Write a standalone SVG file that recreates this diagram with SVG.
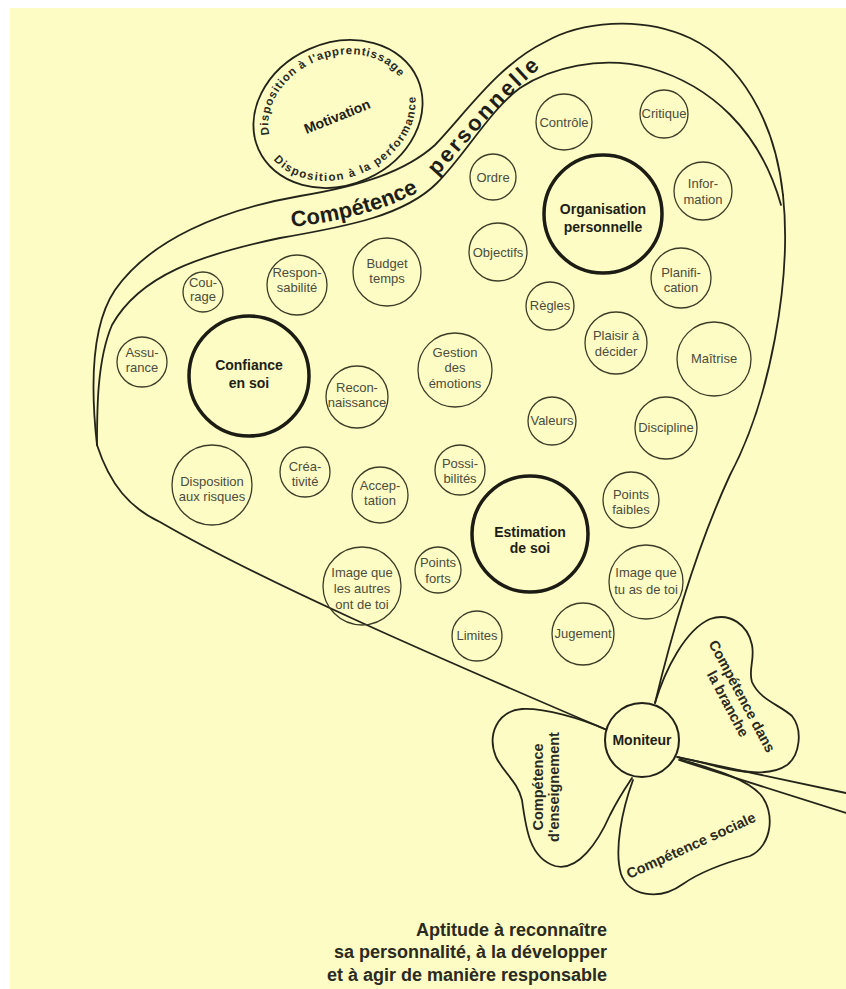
<svg xmlns="http://www.w3.org/2000/svg" width="846" height="989" viewBox="0 0 846 989">
<defs>
<style>
.c{fill:none;stroke:#3c3c28;stroke-width:1.3}
.ck{fill:none;stroke:#1c1c14;stroke-width:3.5}
.t{font-family:"Liberation Sans",Arial,sans-serif;font-size:13px;fill:#4c4c3c;text-anchor:middle}
.tb{font-family:"Liberation Sans",Arial,sans-serif;font-size:14px;font-weight:bold;fill:#1e1e16;text-anchor:middle}
.ln{fill:none;stroke:#24241a;stroke-width:1.8;stroke-linecap:round}
.pt{font-family:"Liberation Sans",Arial,sans-serif;font-size:14.5px;font-weight:bold;fill:#2a2a1e;text-anchor:middle}
.bt{font-family:"Liberation Sans",Arial,sans-serif;font-size:22px;font-weight:bold;fill:#1e1e16}
.et{font-family:"Liberation Sans",Arial,sans-serif;font-size:11.5px;font-weight:bold;fill:#2a2a1e;text-anchor:middle}
</style>
<path id="band1" d="M 292,227 C 335,222 385,212 425,188"/>
<path id="band2" d="M 437,176 C 470,140 505,95 552,58"/>
<path id="arcTop" d="M -72,0 A 72 57 0 0 1 72,0"/>
<path id="arcBot" d="M -80,0 A 80 64 0 0 0 80,0"/>
</defs>
<rect x="0" y="0" width="846" height="989" fill="#ffffff"/>
<rect x="10" y="8" width="836" height="981" fill="#fcfcc4"/>

<g id="connectors">
<path class="ln" d="M 97,445 C 92,400 88,330 115,290 C 150,240 220,210 300,196 C 360,186 405,172 435,145 C 465,114 498,65 545,42 C 580,22 640,15 690,38 C 740,62 775,120 783,195"/>
<path class="ln" d="M 97,445 C 97,410 97,360 112,325 C 140,275 200,255 280,238 C 350,226 405,215 437,183 C 465,155 490,110 520,88 C 550,68 600,55 650,68 C 710,85 760,130 781,205"/>
<path class="ln" d="M 783,195 C 792,280 770,400 730,475 C 700,540 675,620 655,703"/>
<path class="ln" d="M 97,445 C 110,485 130,508 160,522 C 260,580 420,650 607,730"/>
<path class="ln" d="M 677,757 L 846,793"/>
<path class="ln" d="M 679,760 L 846,813"/>
</g>

<g id="motivation">
<g transform="translate(338,114) rotate(-24)">
<ellipse cx="0" cy="0" rx="87" ry="71" fill="none" stroke="#22221a" stroke-width="1.8"/>
<text class="et"><textPath href="#arcTop" startOffset="50%" textLength="185" lengthAdjust="spacing">Disposition à l'apprentissage</textPath></text>
<text class="et"><textPath href="#arcBot" startOffset="50%" textLength="195" lengthAdjust="spacing">Disposition à la performance</textPath></text>
</g>
<text class="tb" transform="translate(339,121) rotate(-22)">Motivation</text>
</g>

<g id="band-title">
<text class="bt"><textPath href="#band1">Compétence</textPath></text>
<text class="bt"><textPath href="#band2" textLength="150" lengthAdjust="spacing">personnelle</textPath></text>
</g>

<g id="controle"><circle class="c" cx="564" cy="122" r="28"/><text class="t" x="564" y="127">Contrôle</text></g>
<g id="critique"><circle class="c" cx="664" cy="114" r="24"/><text class="t" x="664" y="118">Critique</text></g>
<g id="ordre"><circle class="c" cx="493" cy="177" r="23"/><text class="t" x="493" y="182">Ordre</text></g>
<g id="organisation"><circle class="ck" cx="603" cy="214" r="59"/><text class="tb" x="603" y="214">Organisation</text><text class="tb" x="603" y="232">personnelle</text></g>
<g id="information"><circle class="c" cx="703" cy="191" r="29"/><text class="t" x="703" y="188">Infor-</text><text class="t" x="703" y="204">mation</text></g>
<g id="objectifs"><circle class="c" cx="498" cy="252" r="29"/><text class="t" x="498" y="257">Objectifs</text></g>
<g id="planification"><circle class="c" cx="681" cy="278" r="30"/><text class="t" x="681" y="277">Planifi-</text><text class="t" x="681" y="292">cation</text></g>
<g id="regles"><circle class="c" cx="550" cy="306" r="24"/><text class="t" x="550" y="310">Règles</text></g>
<g id="plaisir"><circle class="c" cx="616" cy="343" r="31"/><text class="t" x="616" y="340">Plaisir à</text><text class="t" x="616" y="356">décider</text></g>
<g id="maitrise"><circle class="c" cx="714" cy="359" r="37"/><text class="t" x="714" y="363">Maîtrise</text></g>
<g id="discipline"><circle class="c" cx="666" cy="428" r="31"/><text class="t" x="666" y="432">Discipline</text></g>
<g id="valeurs"><circle class="c" cx="552" cy="421" r="24"/><text class="t" x="552" y="425">Valeurs</text></g>
<g id="gestion"><circle class="c" cx="455" cy="370" r="37"/><text class="t" x="455" y="357">Gestion</text><text class="t" x="455" y="372">des</text><text class="t" x="455" y="388">émotions</text></g>
<g id="reconnaissance"><circle class="c" cx="357" cy="397" r="31"/><text class="t" x="357" y="392">Recon-</text><text class="t" x="357" y="407">naissance</text></g>
<g id="budget"><circle class="c" cx="387" cy="272" r="34"/><text class="t" x="387" y="268">Budget</text><text class="t" x="387" y="283">temps</text></g>
<g id="responsabilite"><circle class="c" cx="297" cy="285" r="30"/><text class="t" x="297" y="277">Respon-</text><text class="t" x="297" y="292">sabilité</text></g>
<g id="courage"><circle class="c" cx="203" cy="292" r="20"/><text class="t" x="203" y="287" font-size="12">Cou-</text><text class="t" x="203" y="301" font-size="12">rage</text></g>
<g id="assurance"><circle class="c" cx="142" cy="362" r="25"/><text class="t" x="142" y="357">Assu-</text><text class="t" x="142" y="372">rance</text></g>
<g id="confiance"><circle class="ck" cx="249" cy="376" r="60"/><text class="tb" x="249" y="370">Confiance</text><text class="tb" x="249" y="388">en soi</text></g>
<g id="disposition-risques"><circle class="c" cx="212" cy="485" r="40"/><text class="t" x="212" y="486">Disposition</text><text class="t" x="212" y="501">aux risques</text></g>
<g id="creativite"><circle class="c" cx="305" cy="472" r="25"/><text class="t" x="305" y="471">Créa-</text><text class="t" x="305" y="486">tivité</text></g>
<g id="acceptation"><circle class="c" cx="380" cy="495" r="28"/><text class="t" x="380" y="490">Accep-</text><text class="t" x="380" y="505">tation</text></g>
<g id="possibilites"><circle class="c" cx="460" cy="470" r="25"/><text class="t" x="460" y="468">Possi-</text><text class="t" x="460" y="483">bilités</text></g>
<g id="image-autres"><circle class="c" cx="362" cy="586" r="39"/><text class="t" x="362" y="577">Image que</text><text class="t" x="362" y="593">les autres</text><text class="t" x="362" y="609">ont de toi</text></g>
<g id="points-forts"><circle class="c" cx="438" cy="570" r="23"/><text class="t" x="438" y="567">Points</text><text class="t" x="438" y="583">forts</text></g>
<g id="estimation"><circle class="ck" cx="530" cy="534" r="58"/><text class="tb" x="530" y="537">Estimation</text><text class="tb" x="530" y="553">de soi</text></g>
<g id="points-faibles"><circle class="c" cx="631" cy="500" r="28"/><text class="t" x="631" y="499">Points</text><text class="t" x="631" y="514">faibles</text></g>
<g id="image-toi"><circle class="c" cx="646" cy="582" r="37"/><text class="t" x="646" y="577">Image que</text><text class="t" x="646" y="594">tu as de toi</text></g>
<g id="limites"><circle class="c" cx="477" cy="636" r="25"/><text class="t" x="477" y="640">Limites</text></g>
<g id="jugement"><circle class="c" cx="583" cy="634" r="31"/><text class="t" x="583" y="638">Jugement</text></g>

<g id="petal-branche">
<path class="ln" d="M 655,703 C 665,670 685,630 710,619 C 730,612 748,625 752,645 C 755,660 748,670 752,682 C 760,700 780,705 792,716 C 803,730 800,755 787,765 C 770,777 740,772 715,766 C 700,762 690,760 678,757"/>
<g transform="translate(735,700) rotate(62)"><text class="pt" x="0" y="-3">Compétence dans</text><text class="pt" x="0" y="13">la branche</text></g>
</g>
<g id="petal-enseignement">
<path class="ln" d="M 607,730 C 580,718 545,708 522,709 C 497,711 487,735 496,757 C 503,772 518,782 522,800 C 526,830 530,858 555,866 C 578,872 598,842 610,815 C 619,797 626,787 632,778"/>
<g transform="translate(546,787) rotate(-90)"><text class="pt" x="0" y="-3">Compétence</text><text class="pt" x="0" y="13">d'enseignement</text></g>
</g>
<g id="petal-sociale">
<path class="ln" d="M 633,780 C 622,810 614,850 621,874 C 628,895 658,902 683,884 C 703,870 728,862 750,856 C 772,846 776,812 760,794 C 745,778 715,770 680,759"/>
<text class="pt" transform="translate(693,850) rotate(-24.5)">Compétence sociale</text>
</g>
<g id="moniteur"><circle cx="642" cy="740" r="37" fill="#fcfcc4" stroke="#22221a" stroke-width="2"/><text class="tb" x="642" y="745">Moniteur</text></g>

<g id="caption" font-family="Liberation Sans,Arial,sans-serif" font-size="18" font-weight="bold" fill="#2a2a20" text-anchor="end">
<text x="607" y="936">Aptitude à reconnaître</text>
<text x="607" y="958">sa personnalité, à la développer</text>
<text x="607" y="981">et à agir de manière responsable</text>
</g>
</svg>
